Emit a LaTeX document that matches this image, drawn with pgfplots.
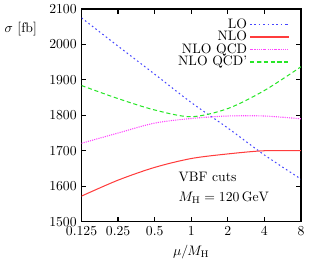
\documentclass[border=0pt]{standalone}
\usepackage{pgfplots}
\pgfplotsset{compat=1.18}
\definecolor{loblue}{RGB}{70,70,255}
\definecolor{nlored}{RGB}{255,60,60}
\definecolor{qcdmag}{RGB}{255,70,255}
\definecolor{qcdgreen}{RGB}{40,230,40}
\begin{document}
\begin{tikzpicture}
\begin{axis}[
  scale only axis,
  width=160pt, height=155pt,
  xmode=log, log basis x=2,
  xmin=0.125, xmax=8,
  ymin=1500, ymax=2100,
  xtick={0.125,0.25,0.5,1,2,4,8},
  xticklabels={0.125,0.25,0.5,1,2,4,8},
  ytick={1500,1600,1700,1800,1900,2000,2100},
  yticklabel style={/pgf/number format/1000 sep={}},
  tick align=inside,
  major tick length=3.5pt,
  axis line style={line width=0.9pt},
  every tick/.style={line width=0.9pt, black},
  xlabel={$\mu/M_{\mathrm{H}}$},
  legend plot pos=right,
  legend cell align=right,
  legend style={draw=none, fill=none, at={(rel axis cs:0.95,0.965)}, anchor=north east,
    row sep=-2.5pt, inner sep=0pt, nodes={inner sep=1.5pt}},
  legend image code/.code={\draw[mark repeat=2,mark phase=2,#1] plot coordinates {(0cm,0cm) (0.5cm,0cm) (1cm,0cm)};},
  legend image post style={line width=1.1pt},
  clip mode=individual,
]
\addplot[color=loblue, line width=0.75pt, dash pattern=on 1.2pt off 2pt, smooth] coordinates {
(0.125,2075) (0.25,1995) (0.5,1916) (1,1836) (2,1764) (4,1688) (8,1620)};
\addlegendentry{LO}
\addplot[color=nlored, line width=0.75pt, smooth] coordinates {
(0.125,1572) (0.25,1617) (0.5,1653) (1,1678) (2,1691) (4,1700) (8,1700)};
\addlegendentry{NLO}
\addplot[color=qcdmag, line width=0.8pt, dash pattern=on 0.8pt off 0.8pt, smooth] coordinates {
(0.125,1721) (0.25,1750) (0.5,1778) (1,1791) (2,1798) (4,1798) (8,1790)};
\addlegendentry{NLO QCD}
\addplot[color=qcdgreen, line width=0.75pt, dash pattern=on 3pt off 2pt, smooth] coordinates {
(0.125,1884) (0.25,1847) (0.5,1815) (1,1796) (2,1819) (4,1870) (8,1937)};
\addlegendentry{NLO QCD'}
\node[anchor=west] at (rel axis cs:0.42,0.212) {VBF cuts};
\node[anchor=west] at (rel axis cs:0.42,0.11) {$M_{\mathrm{H}}=120\,\mathrm{GeV}$};
\node at (rel axis cs:-0.277,0.905) {$\sigma$ [fb]};
\end{axis}
\end{tikzpicture}
\end{document}
